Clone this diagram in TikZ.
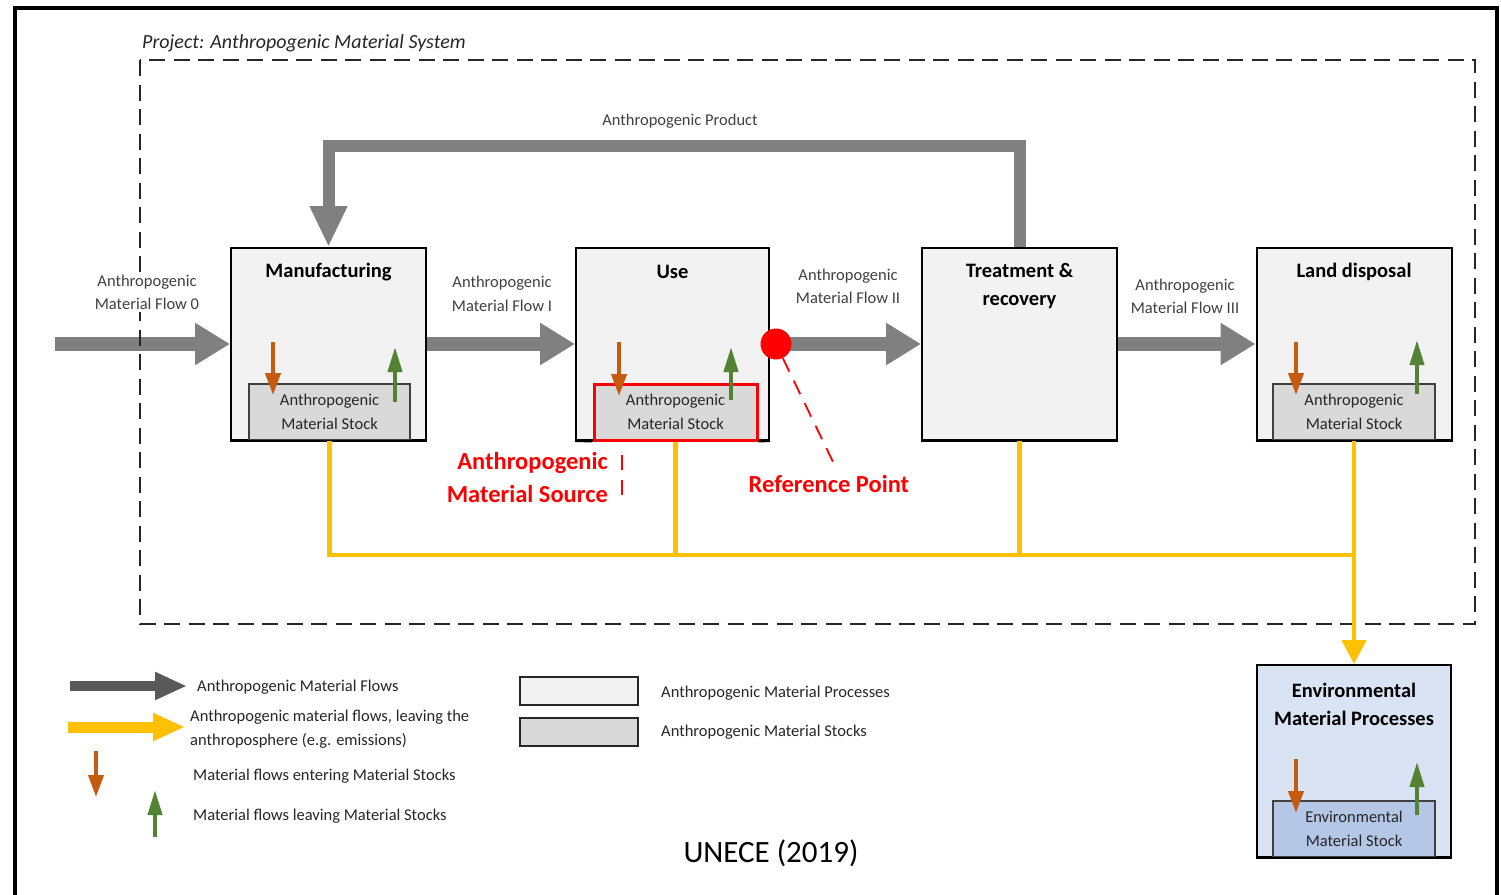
\documentclass[tikz,border=0pt]{standalone}
\usepackage{fontspec}
\setmainfont{Carlito}
\usetikzlibrary{arrows.meta,calc}
\definecolor{procfill}{HTML}{F2F2F2}
\definecolor{stockfill}{HTML}{D9D9D9}
\definecolor{stockline}{HTML}{404040}
\definecolor{flowgray}{HTML}{808080}
\definecolor{legdark}{HTML}{595959}
\definecolor{yelw}{HTML}{FFC000}
\definecolor{orng}{HTML}{C55A11}
\definecolor{grn}{HTML}{548235}
\definecolor{envfill}{HTML}{DAE3F3}
\definecolor{envstock}{HTML}{B4C7E7}
\definecolor{txtgray}{HTML}{404040}
\definecolor{txtdark}{HTML}{262626}
\definecolor{myred}{HTML}{FF0000}
\newcommand\myfs[2]{\fontsize{#1}{#2}\selectfont}
\begin{document}
\begin{tikzpicture}[x=1pt,y=-1pt,
  proc/.style={draw=black,line width=2pt,fill=procfill,minimum width=195pt,minimum height=192pt,inner sep=0pt},
  stockbox/.style={draw=stockline,line width=1.5pt,fill=stockfill,minimum width=161pt,minimum height=56pt,inner sep=0pt,align=center,font=\myfs{16.5}{23.5},text=txtdark},
  titletext/.style={font=\bfseries\myfs{20.5}{28},align=center,text=black,inner sep=0pt},
  lbl/.style={font=\myfs{16.5}{23.5},align=center,text=txtgray,inner sep=0pt},
  legtext/.style={font=\myfs{16.5}{23.5},align=left,text=txtdark,inner sep=0pt,anchor=west},
  flowarr/.style={draw=flowgray,line width=14pt,-{Triangle[length=35pt,width=40pt]}},
  prodarr/.style={draw=flowgray,line width=12pt,line join=miter,-{Triangle[length=41pt,width=35pt]}},
  yel/.style={draw=yelw,line width=4.5pt},
  inarr/.style={draw=orng,line width=4pt,-{Triangle[length=22pt,width=15pt]}},
  outarr/.style={draw=grn,line width=4pt,-{Triangle[length=25pt,width=14pt]}},
  reddash/.style={draw=myred,line width=1.8pt,dash pattern=on 15pt off 10pt},
  redtext/.style={font=\bfseries\myfs{24.5}{33},text=myred,inner sep=0pt}
]
\useasboundingbox (0,0) rectangle (1501,894);
% outer frame
\draw[line width=3.5pt] (15,900) -- (15,8) -- (1497,8) -- (1497,900);

% process boxes
\node[proc] (mfg) at (328.5,344) {};
\node[proc,minimum width=193pt] (use) at (672.5,344) {};
\node[proc] (treat) at (1019.5,344) {};
\node[proc] (land) at (1354,344) {};
\node[proc,fill=envfill,minimum width=194pt] (env) at (1354,761) {};

% stocks
\node[stockbox] (mfgstock) at (329.5,412) {Anthropogenic\\Material Stock};
\node[stockbox,draw=myred,line width=3pt,minimum width=163pt] (usestock) at (675.5,412) {Anthropogenic\\Material Stock};
\node[stockbox,minimum width=162pt] (landstock) at (1354,412) {Anthropogenic\\Material Stock};
\node[stockbox,fill=envstock,minimum width=162pt] (envstock) at (1354,829) {Environmental\\Material Stock};
\foreach \b in {mfg,treat,land,env}{\draw[line width=2pt] (\b.south west) -- (\b.south east);}
\draw[line width=2pt] (use.south west) -- (usestock.south west);
\draw[line width=2pt] (usestock.south east) -- (use.south east);

% titles
\node[titletext] (mfgt) at (328.5,272) {Manufacturing};
\node[titletext] (uset) at (672.5,272) {Use};
\node[titletext] (treatt) at (1019.5,286) {Treatment \&\\recovery};
\node[titletext] (landt) at (1354,272) {Land disposal};
\node[titletext] (envt) at (1354,704) {Environmental\\Material Processes};

% main flows
\coordinate (in0) at (55,344);
\draw[flowarr] (in0) -- (mfg.west);
\draw[flowarr] (mfg.east) -- (use.west);
\draw[flowarr] (use.east) -- (treat.west);
\draw[flowarr] (treat.east) -- (land.west);
\coordinate (topline) at (0,146);
\draw[prodarr] (treat.north) -- (treat.north |- topline) -| (mfg.north);

% system boundary
\draw[draw=black!85,line width=2pt,dash pattern=on 16pt off 8.5pt] (140,60) rectangle (1475,624);
\node[font=\itshape\myfs{20}{24},text=txtdark,anchor=west,inner sep=0pt] (proj) at (142,43) {Project: Anthropogenic Material System};

% flow labels
\node[lbl,fill=white,inner sep=2pt] (l0) at (147,292.5) {Anthropogenic\\Material Flow 0};
\node[lbl] (l1) at (502,294) {Anthropogenic\\Material Flow I};
\node[lbl] (l2) at (848,286.5) {Anthropogenic\\Material Flow II};
\node[lbl] (l3) at (1185,296.5) {Anthropogenic\\Material Flow III};
\node[lbl] (lp) at (680,121) {Anthropogenic Product};

% yellow flows
\coordinate (bus) at (1354,555);
\draw[yel] (mfgstock.south) |- (bus);
\draw[yel] (usestock.south) -- (usestock.south |- bus);
\draw[yel] (treat.south) -- (treat.south |- bus);
\draw[yel,-{Triangle[length=24pt,width=24pt]}] (landstock.south) -- (env.north);

% stock arrows
\draw[inarr] (273,342) -- (273,395);
\draw[outarr] (395,402) -- (395,347);
\draw[inarr] (619,342) -- (619,396);
\draw[outarr] (731,400) -- (731,347);
\draw[inarr] (1296,342) -- (1296,395);
\draw[outarr] (1417,394) -- (1417,340);
\draw[inarr] (1296,759) -- (1296,813);
\draw[outarr] (1417,815) -- (1417,762);

% reference point
\node[circle,fill=myred,minimum size=31pt,inner sep=0pt] (refdot) at (776,344) {};
\coordinate (refend) at (835,466);
\draw[reddash] (refdot) -- (refend);
\node[redtext] (refpt) at (829,484) {Reference Point};
\node[redtext,align=right,anchor=east] (src) at (608,477.5) {Anthropogenic\\Material Source};
\coordinate (srca) at (622,455);
\coordinate (srcb) at (622,505);
\draw[reddash] (srca) -- (srcb);

% legend
\coordinate (la1) at (70,686);
\coordinate (la2) at (187,686);
\draw[draw=legdark,line width=10pt,-{Triangle[length=32pt,width=26pt]}] (la1) -- (la2);
\node[legtext] (lt1) at (197,687) {Anthropogenic Material Flows};
\coordinate (lb1) at (68,727);
\coordinate (lb2) at (185,727);
\draw[draw=yelw,line width=11pt,-{Triangle[length=32pt,width=26pt]}] (lb1) -- (lb2);
\node[legtext] (lt2) at (190,729) {Anthropogenic material flows, leaving the\\anthroposphere (e.g. emissions)};
\draw[inarr] (96,751) -- (96,797);
\node[legtext] (lt3) at (193,776) {Material flows entering Material Stocks};
\draw[outarr] (155,837) -- (155,790);
\node[legtext] (lt4) at (193,816) {Material flows leaving Material Stocks};
\node[draw=black!85,line width=2.5pt,fill=procfill,minimum width=118pt,minimum height=28pt,inner sep=0pt] (lbox1) at (579,691) {};
\node[draw=black!85,line width=2.5pt,fill=stockfill,minimum width=118pt,minimum height=28pt,inner sep=0pt] (lbox2) at (579,732) {};
\node[legtext] (lt5) at (661,693) {Anthropogenic Material Processes};
\node[legtext] (lt6) at (661,732) {Anthropogenic Material Stocks};

\node[font=\myfs{31}{36},text=black,inner sep=0pt] (src2) at (771,853) {UNECE (2019)};
\end{tikzpicture}
\end{document}
